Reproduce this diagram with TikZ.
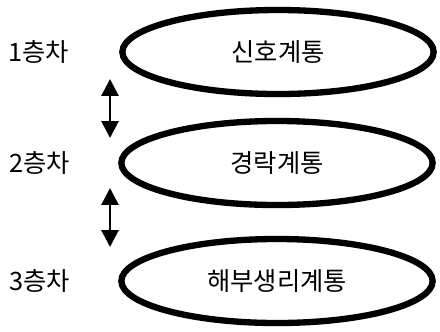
\documentclass[tikz,border=0pt]{standalone}
\usepackage{fontspec}
\setmainfont{Noto Sans CJK KR}
\usetikzlibrary{arrows.meta, shapes.geometric, positioning}

\begin{document}
\begin{tikzpicture}[
    x=0.025cm, y=-0.025cm,
    font=\fontsize{18}{21}\selectfont,
    layer/.style={ellipse, draw=black, line width=4.5pt,
                  minimum width=7.78cm, minimum height=2.1cm, inner sep=0pt},
    lvl/.style={inner sep=0pt},
    arr/.style={{Triangle[length=4.2mm, width=4.2mm]}-{Triangle[length=4.2mm, width=4.2mm]},
                line width=2pt}
  ]
    \useasboundingbox (0,0) rectangle (440,331);

    % Layers
    \node[layer] (signal)  at (278,52)  {신호계통};
    \node[layer] (meridian) at (277,163) {경락계통};
    \node[layer] (anatomy) at (277,281) {해부생리계통};

    % Level labels
    \node[lvl, left=1.25cm of signal]   (lvl1) {1층차};
    \node[lvl, left=1.2cm of meridian]  (lvl2) {2층차};
    \node[lvl, left=1.2cm of anatomy]   (lvl3) {3층차};

    % Links between levels
    \coordinate (up1)   at (110,79);
    \coordinate (down1) at (110,138);
    \coordinate (up2)   at (110,188);
    \coordinate (down2) at (110,247);

    \draw[arr] (up1) -- (down1);
    \draw[arr] (up2) -- (down2);
  \end{tikzpicture}
\end{document}
